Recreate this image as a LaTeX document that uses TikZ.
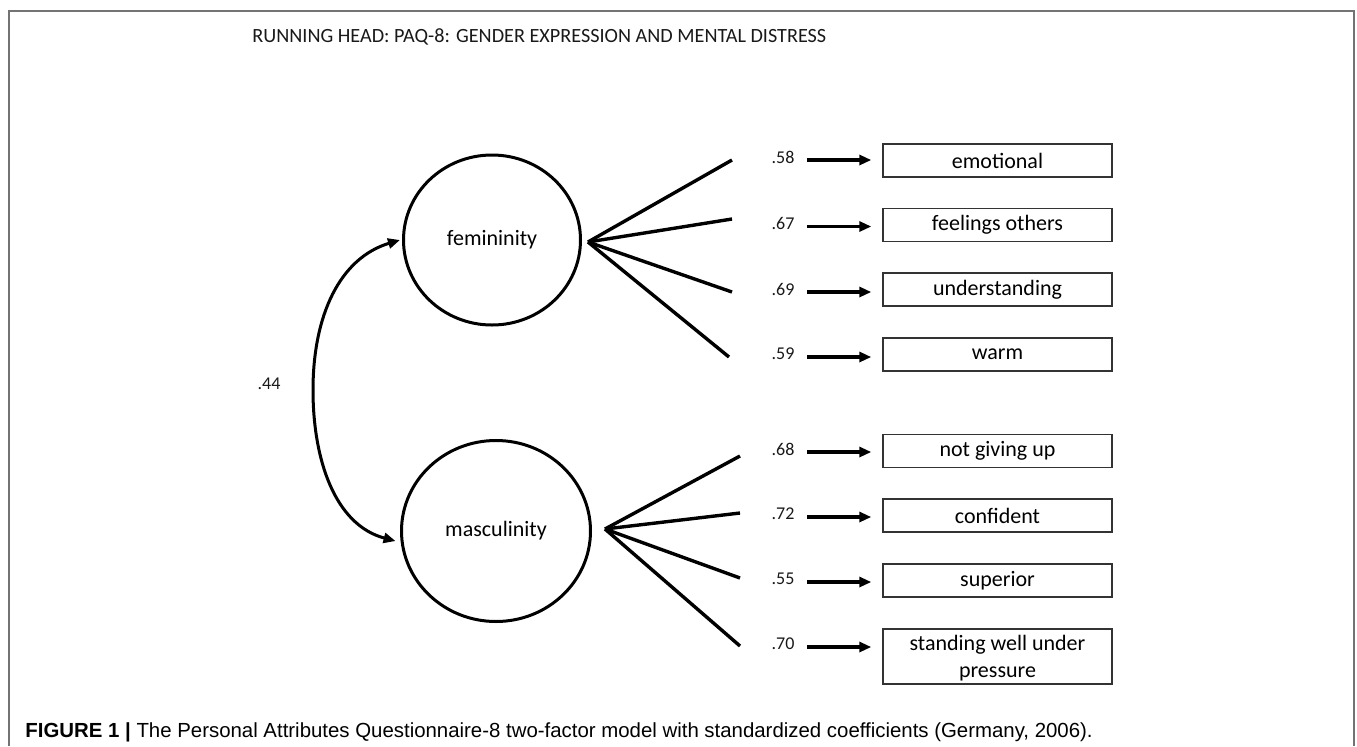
\documentclass[tikz,border=0pt]{standalone}
\usepackage{fontspec}
\setmainfont{Carlito}
\newfontfamily\capfont{Liberation Sans}
\usetikzlibrary{arrows.meta,shapes.geometric,calc}
\begin{document}
\begin{tikzpicture}[x=0.5pt,y=-0.5pt,
 latent/.style={draw=black,line width=1.5pt,ellipse,inner sep=0pt,font=\fontsize{11}{13}\selectfont},
 item/.style={draw=black!80,line width=0.7pt,minimum width=114.5pt,minimum height=16.5pt,inner sep=0pt,align=center,font=\fontsize{11}{13.5}\selectfont},
 coef/.style={inner sep=0pt,font=\fontsize{9}{11}\selectfont,text=black!90},
 load/.style={line width=1.7pt},
 arr/.style={line width=1.6pt,-{Triangle[length=6pt,width=5pt]}},
 corr/.style={line width=1.5pt,{Triangle[length=6pt,width=5pt]}-{Triangle[length=6pt,width=5pt]}},
 frame/.style={draw=black!55,line width=0.6pt}]
\useasboundingbox (0,0) rectangle (1357,746);
% frame
\coordinate (fbl) at (9,746);
\coordinate (ftl) at (9,11);
\coordinate (ftr) at (1354,11);
\coordinate (fbr) at (1354,746);
\draw[frame] (fbl) -- (ftl) -- (ftr) -- (fbr);
% header
\node[anchor=base west,inner sep=0pt,font=\fontsize{10.1}{12}\selectfont,text=black!90] (head) at (252,42) {RUNNING HEAD: PAQ-8: GENDER EXPRESSION AND MENTAL DISTRESS};
% latent variables
\node[latent,minimum width=88.5pt,minimum height=85pt] (fem) at (492,240) {femininity};
\node[latent,minimum width=94.5pt,minimum height=90.5pt] (masc) at (496,531) {masculinity};
% correlation
\draw[corr] ([xshift=-2.5pt]masc.186) .. controls (335,525) and (313,460) .. (313,390) .. controls (313,315) and (340,258) .. ([xshift=-1pt]fem.west);
\node[coef] (r) at (269,384) {.44};
% hubs and loading line ends
\coordinate (fh) at (588,242);
\coordinate (mh) at (605,529);
\coordinate (e1) at (732,160);
\coordinate (e2) at (732,219);
\coordinate (e3) at (732,292);
\coordinate (e4) at (729,357);
\coordinate (e5) at (740,456);
\coordinate (e6) at (740,513);
\coordinate (e7) at (740,578);
\coordinate (e8) at (740,646);
\foreach \e in {e1,e2,e3,e4} \draw[load] (fh) -- (\e);
\foreach \e in {e5,e6,e7,e8} \draw[load] (mh) -- (\e);
% items
\node[item] (b1) at (997.5,160.5) {emotional};
\node[item] (b2) at (997.5,225) {feelings others};
\node[item] (b3) at (997.5,289.5) {understanding};
\node[item] (b4) at (997.5,354.5) {warm};
\node[item] (b5) at (997.5,451) {not giving up};
\node[item] (b6) at (997.5,515.5) {confident};
\node[item] (b7) at (997.5,580.5) {superior};
\node[item,minimum height=27.5pt] (b8) at (997.5,656.5) {\strut standing well under\\pressure};
% coefficients
\node[coef] (l1) at (783,157) {.58};
\node[coef] (l2) at (783,223.5) {.67};
\node[coef] (l3) at (783,289) {.69};
\node[coef] (l4) at (783,354) {.59};
\node[coef] (l5) at (783,449) {.68};
\node[coef] (l6) at (783,514) {.72};
\node[coef] (l7) at (783,579) {.55};
\node[coef] (l8) at (783,644) {.70};
\foreach \i in {1,...,8}
  \draw[arr] ($(l\i.east)+(6pt,-1.5pt)$) -- ($(l\i.east -| b\i.west)+(-5.5pt,-1.5pt)$);
% caption
\node[anchor=base west,inner sep=0pt,font=\capfont\fontsize{10.2}{12}\selectfont] (cap) at (25,737) {\textbf{FIGURE 1 |} The Personal Attributes Questionnaire-8 two-factor model with standardized coefficients (Germany, 2006).};
\end{tikzpicture}
\end{document}
